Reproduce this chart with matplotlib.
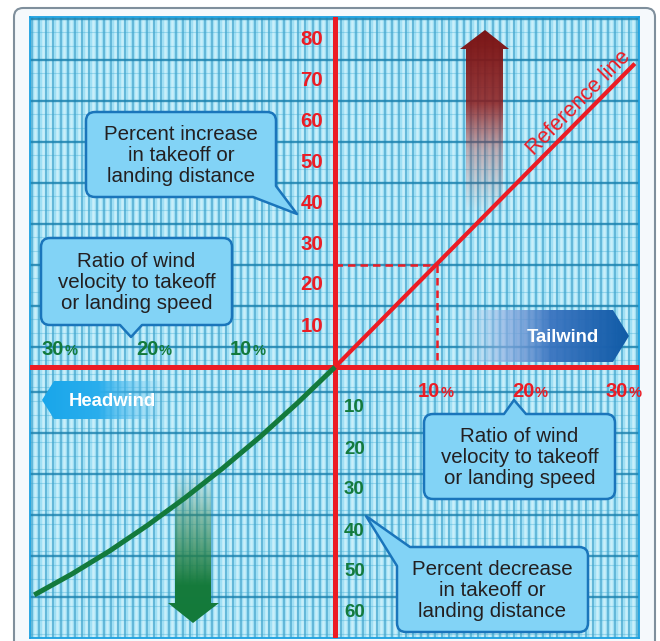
import numpy as np
import matplotlib
matplotlib.use("Agg")
import matplotlib.pyplot as plt
from matplotlib.path import Path
from matplotlib.patches import PathPatch, Polygon, FancyBboxPatch
from matplotlib.colors import to_rgb

# ---------------- data (percent) ----------------
ref_x = [0.0, 31.9]                  # tailwind reference line
ref_y = [0.0, 74.0]
head_x = [0, -4, -8, -12, -16, -20, -24, -28, -32]   # headwind curve
head_y = [0, -8.8, -17.1, -24.8, -32.0, -38.7, -44.9, -50.5, -55.6]
mark_x = 10.8                        # dashed read-off example
mark_y = 25.0
inc_ticks = [10, 20, 30, 40, 50, 60, 70, 80]      # percent increase (up)
dec_ticks = [10, 20, 30, 40, 50, 60]              # percent decrease (down)
tail_ticks = [10, 20, 30]                          # tailwind ratio
head_ticks = [30, 20, 10]                          # headwind ratio

RED = "#ec1c24"
GREEN = "#137a3c"
BOX_FC = "#82d3f6"
BOX_EC = "#1a75bb"
TXT = "#231f20"

# ---------------- layout (pixels) ----------------
W, H = 660, 641
AX_L, AX_R, AX_T, AX_B = 30, 639, 17, 638
OX, OY = 335, 367
SX, SY = 9.4, 4.1


def P(x, y):
    """pixel position (top-left origin) -> data coordinates"""
    return ((x - OX) / SX, (OY - y) / SY)


fig = plt.figure(figsize=(W / 100, H / 100), dpi=100)
fig.patch.set_facecolor("white")

frame = FancyBboxPatch((14 / W, -0.05), 641 / W, 1 - 8 / H + 0.05,
                       boxstyle="round,pad=0,rounding_size=0.014",
                       transform=fig.transFigure, fc="#f5f9fc", ec="#7f8f9c",
                       lw=1.5, zorder=-1)
fig.add_artist(frame)

ax = fig.add_axes([AX_L / W, 1 - AX_B / H, (AX_R - AX_L) / W, (AX_B - AX_T) / H])
x0, y0 = P(AX_L, AX_B)
x1, y1 = P(AX_R, AX_T)
ax.set_xlim(x0, x1)
ax.set_ylim(y0, y1)
ax.set_facecolor("#9fdff4")
ax.set_xticks([])
ax.set_yticks([])
for s in ax.spines.values():
    s.set_color("#1aa0e0")
    s.set_linewidth(1.3)

# ---------------- background grid texture ----------------
step = 7.2 / SX
for i, xv in enumerate(np.arange(x0 + 0.2, x1, step)):
    ax.axvline(xv, color="#2b93bf", lw=1.2, alpha=0.6, zorder=1)
    ax.axvline(xv + step / 2, color="#dcf6fd", lw=1.8, alpha=0.7, zorder=1)
for yv in np.arange(-65, 86, 10 / 3):
    ax.axhline(yv, color="#3aa8d0", lw=0.8, alpha=0.35, zorder=1)
for yv in list(np.arange(5, 86, 10)) + list(np.arange(-6, -66, -10)):
    ax.axhline(yv, color="#1a80ad", lw=1.7, alpha=0.8, zorder=2)


# ---------------- gradient arrows ----------------
def grad_poly(poly_px, direction, stops, z=3):
    verts = [P(*p) for p in poly_px]
    xs, ys = zip(*verts)
    extent = (min(xs), max(xs), min(ys), max(ys))
    n = 256
    t = np.linspace(0, 1, n)
    ts = [s[0] for s in stops]
    cols = np.array([to_rgb(s[1]) for s in stops])
    als = [s[2] for s in stops]
    rgba = np.zeros((n, 4))
    for k in range(3):
        rgba[:, k] = np.interp(t, ts, cols[:, k])
    rgba[:, 3] = np.interp(t, ts, als)
    img = rgba[None, :, :] if direction == "x" else rgba[:, None, :]
    im = ax.imshow(img, extent=extent, origin="lower", aspect="auto",
                   interpolation="bilinear", zorder=z)
    poly = Polygon(verts, closed=True, transform=ax.transData, fc="none", ec="none")
    im.set_clip_path(poly)


# red up arrow (increase)
grad_poly([(485, 30), (509, 49), (503, 49), (503, 215), (466, 215), (466, 49), (460, 49)],
          "y", [(0, "#b04545", 0.0), (0.35, "#a83232", 0.35), (0.6, "#8e1c1c", 0.85),
                (1, "#7a1414", 1.0)])
# green down arrow (decrease)
grad_poly([(175, 470), (211, 470), (211, 603), (219, 603), (193, 623), (168, 603), (175, 603)],
          "y", [(0, "#137a3a", 1.0), (0.25, "#167b3c", 1.0), (0.7, "#3f8a5a", 0.5),
                (1, "#6a9a80", 0.0)])
# tailwind arrow
grad_poly([(455, 310), (613, 310), (629, 336), (613, 362), (455, 362)],
          "x", [(0, "#c8d8f0", 0.0), (0.3, "#8aa8de", 0.7), (0.55, "#3a74c0", 0.95),
                (1, "#0f5aa6", 1.0)])
# headwind arrow
grad_poly([(42, 400), (54, 381), (168, 381), (168, 419), (54, 419)],
          "x", [(0, "#19a6ea", 1.0), (0.45, "#2aaeed", 1.0), (1, "#7ccbf0", 0.0)])

ax.text(*P(563, 338), "Tailwind", color="white", fontsize=13.3, fontweight="bold",
        family="Liberation Sans", ha="center", va="center", zorder=7)
ax.text(*P(112, 401), "Headwind", color="white", fontsize=13.3, fontweight="bold",
        family="Liberation Sans", ha="center", va="center", zorder=7)

# ---------------- axes lines ----------------
ax.axvline(0, color=RED, lw=3.6, zorder=5)
ax.axhline(0, color=RED, lw=3.6, zorder=5)

# dashed read-off
ax.plot([0, mark_x], [mark_y, mark_y], color=RED, lw=1.8, dashes=(3, 2), zorder=4)
ax.plot([mark_x, mark_x], [mark_y, 0], color=RED, lw=1.8, dashes=(3, 2), zorder=4)

# reference line and headwind curve
ax.plot(ref_x, ref_y, color=RED, lw=3.0, solid_capstyle="butt", zorder=6)
ax.plot(head_x, head_y, color=GREEN, lw=3.6, solid_capstyle="butt", zorder=6)

pa = ax.transData.transform((ref_x[0], ref_y[0]))
pb = ax.transData.transform((ref_x[-1], ref_y[-1]))
ang = np.degrees(np.arctan2(pb[1] - pa[1], pb[0] - pa[0]))
ax.text(*P(579, 103), "Reference line", color=RED, fontsize=15.5, family="Liberation Sans",
        rotation=ang, rotation_mode="anchor", ha="center", va="center", zorder=7)

# ---------------- tick labels ----------------
NUMF = dict(family="Liberation Sans", fontweight="bold")
for v in inc_ticks:
    ax.annotate(str(v), (0, v), xytext=(-8.5, 0), textcoords="offset points",
                ha="right", va="center", color=RED, fontsize=14.8, zorder=7, **NUMF)
for v in dec_ticks:
    ax.annotate(str(v), (0, -v), xytext=(6.5, 0), textcoords="offset points",
                ha="left", va="center", color=GREEN, fontsize=13.5, zorder=7, **NUMF)
for v in tail_ticks:
    ax.annotate(str(v), (v, 0), xytext=(0, -21.5), textcoords="offset points",
                ha="center", va="baseline", color=RED, fontsize=14.5, zorder=7, **NUMF)
    ax.annotate("%", (v, 0), xytext=(8.2, -21.5), textcoords="offset points",
                ha="left", va="baseline", color=RED, fontsize=10.5, zorder=7, **NUMF)
for v in head_ticks:
    ax.annotate(str(v), (-v, 0), xytext=(0, 8.6), textcoords="offset points",
                ha="center", va="baseline", color=GREEN, fontsize=14.5, zorder=7, **NUMF)
    ax.annotate("%", (-v, 0), xytext=(8.2, 8.6), textcoords="offset points",
                ha="left", va="baseline", color=GREEN, fontsize=10.5, zorder=7, **NUMF)


# ---------------- callouts ----------------
def callout(bx0, by0, bx1, by1, tail, text, r=9):
    verts, codes = [], []

    def mv(p):
        verts.append(p); codes.append(Path.MOVETO)

    def ln(p):
        verts.append(p); codes.append(Path.LINETO)

    def cv(c, p):
        verts.extend([c, p]); codes.extend([Path.CURVE3, Path.CURVE3])

    kind = tail[0]
    if kind == "tl":
        _, ly, tx, tip = tail
        mv((tx, by0))
    else:
        mv((bx0 + r, by0))
    if kind == "top":
        _, a, b, tip = tail
        ln((a, by0)); ln(tip); ln((b, by0))
    ln((bx1 - r, by0)); cv((bx1, by0), (bx1, by0 + r))
    if kind == "br":
        _, ry, bxp, tip = tail
        ln((bx1, ry)); ln(tip); ln((bxp, by1))
    else:
        ln((bx1, by1 - r)); cv((bx1, by1), (bx1 - r, by1))
    if kind == "bottom":
        _, a, b, tip = tail
        ln((b, by1)); ln(tip); ln((a, by1))
    ln((bx0 + r, by1)); cv((bx0, by1), (bx0, by1 - r))
    if kind == "tl":
        ln((bx0, ly)); ln(tip); ln((tx, by0))
    else:
        ln((bx0, by0 + r)); cv((bx0, by0), (bx0 + r, by0))
    verts.append(verts[0]); codes.append(Path.CLOSEPOLY)
    dverts = [P(*v) for v in verts]
    ax.add_patch(PathPatch(Path(dverts, codes), fc=BOX_FC, ec=BOX_EC, lw=1.8,
                           joinstyle="round", zorder=8))
    ax.text(*P((bx0 + bx1) / 2, (by0 + by1) / 2 + 1), text, color=TXT, fontsize=14.8,
            family="Liberation Sans", ha="center", va="center", linespacing=1.12,
            zorder=9)


callout(86, 112, 276, 197, ("br", 186, 253, (297, 214)),
        "Percent increase\nin takeoff or\nlanding distance")
callout(41, 238, 232, 325, ("bottom", 120, 142, (131, 337)),
        "Ratio of wind\nvelocity to takeoff\nor landing speed")
callout(424, 414, 615, 499, ("top", 504, 526, (514, 400)),
        "Ratio of wind\nvelocity to takeoff\nor landing speed")
callout(397, 547, 588, 632, ("tl", 566, 410, (366, 516)),
        "Percent decrease\nin takeoff or\nlanding distance")

fig.savefig("out.png", dpi=100)
